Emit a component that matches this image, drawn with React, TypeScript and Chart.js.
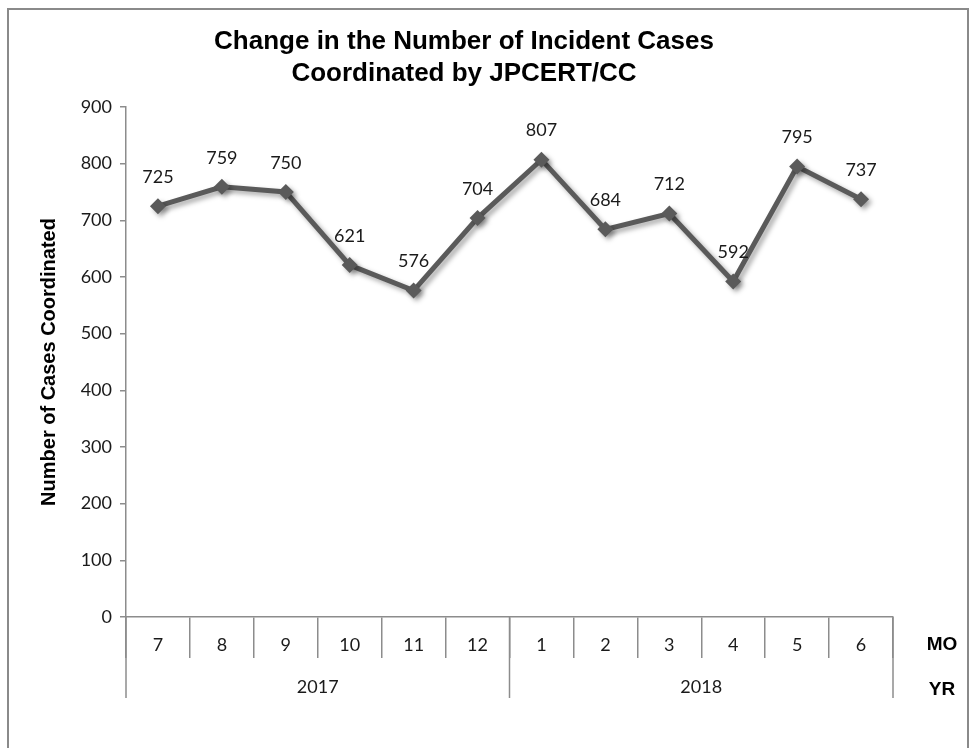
import React, { useEffect, useRef } from "react";
import { Chart, registerables } from "chart.js";

Chart.register(...registerables);

const months = ["7", "8", "9", "10", "11", "12", "1", "2", "3", "4", "5", "6"];
const years = ["2017", "2018"];
const monthsPerYearGroup = [6, 6];
const cases = [725, 759, 750, 621, 576, 704, 807, 684, 712, 592, 795, 737];
const titleLines = ["Change in the Number of Incident Cases", "Coordinated by JPCERT/CC"];
const yTitle = "Number of Cases Coordinated";

const AXIS_COLOR = "#8c8c8c";
const LINE_COLOR = "#5a5a5a";

const shadowPlugin = {
  id: "lineShadow",
  beforeDatasetsDraw(chart: any) {
    const ctx = chart.ctx;
    ctx.save();
    ctx.shadowColor = "rgba(0,0,0,0.35)";
    ctx.shadowBlur = 5;
    ctx.shadowOffsetX = 3;
    ctx.shadowOffsetY = 3;
  },
  afterDatasetsDraw(chart: any) {
    chart.ctx.restore();
  },
};

const labelsPlugin = {
  id: "decor",
  afterDraw(chart: any) {
    const ctx = chart.ctx;
    const area = chart.chartArea;
    const x = chart.scales.x;
    ctx.save();
    // outer border
    ctx.strokeStyle = "#8a8a8a";
    ctx.lineWidth = 2;
    ctx.strokeRect(8, 9, 960, 760);

    // data labels
    const meta = chart.getDatasetMeta(0);
    ctx.fillStyle = "#1a1a1a";
    ctx.font = "18px Lato";
    ctx.textAlign = "center";
    ctx.textBaseline = "middle";
    meta.data.forEach((pt: any, i: number) => {
      ctx.fillText(String(cases[i]), pt.x, pt.y - 29);
    });

    // year row
    ctx.strokeStyle = AXIS_COLOR;
    ctx.lineWidth = 1.5;
    const step = (x.right - x.left) / months.length;
    let start = 0;
    const bottom = area.bottom + 81;
    const drawV = (px: number) => {
      ctx.beginPath();
      ctx.moveTo(px, area.bottom);
      ctx.lineTo(px, bottom);
      ctx.stroke();
    };
    drawV(x.left);
    monthsPerYearGroup.forEach((n, gi) => {
      const l = x.left + start * step;
      const r = x.left + (start + n) * step;
      drawV(r);
      ctx.fillStyle = "#1a1a1a";
      ctx.font = "18px Lato";
      ctx.fillText(years[gi], (l + r) / 2, area.bottom + 70);
      start += n;
    });

    // MO / YR
    ctx.font = "bold 19px 'Liberation Sans'";
    ctx.fillStyle = "#000";
    ctx.fillText("MO", 942, area.bottom + 28);
    ctx.fillText("YR", 942, area.bottom + 73);
    ctx.restore();
  },
};

export default function App() {
  const ref = useRef<HTMLCanvasElement | null>(null);
  useEffect(() => {
    document.body.style.margin = "0";
    const chart = new Chart(ref.current as HTMLCanvasElement, {
      type: "line",
      data: {
        labels: months,
        datasets: [
          {
            data: cases,
            borderColor: LINE_COLOR,
            backgroundColor: LINE_COLOR,
            borderWidth: 5,
            pointStyle: "rectRot",
            pointRadius: 8,
            pointBorderWidth: 0,
            pointBackgroundColor: LINE_COLOR,
            tension: 0,
          },
        ],
      },
      options: {
        responsive: false,
        animation: false,
        layout: { padding: { left: 35, right: 77, top: 0, bottom: 0 } },
        plugins: {
          legend: { display: false },
          tooltip: { enabled: false },
          title: {
            display: true,
            text: titleLines,
            color: "#000",
            font: { family: "'Liberation Sans'", size: 26, weight: "bold", lineHeight: 1.23 },
            padding: { top: 26, bottom: 17 },
          },
        },
        scales: {
          x: {
            type: "category",
            offset: true,
            afterFit: (s: any) => {
              s.height = 131;
            },
            grid: {
              display: true,
              offset: true,
              drawOnChartArea: false,
              drawTicks: true,
              tickLength: 41,
              color: AXIS_COLOR,
              lineWidth: 1.5,
            },
            border: { display: true, color: AXIS_COLOR, width: 1.5 },
            ticks: {
              color: "#1a1a1a",
              font: { family: "Lato", size: 18 },
              padding: -24,
              maxRotation: 0,
              autoSkip: false,
            },
          },
          y: {
            min: 0,
            max: 900,
            afterFit: (s: any) => {
              s.width = 91;
            },
            grid: {
              display: true,
              drawOnChartArea: false,
              drawTicks: true,
              tickLength: 6,
              color: AXIS_COLOR,
              lineWidth: 1.5,
            },
            border: { display: true, color: AXIS_COLOR, width: 1.5 },
            ticks: {
              stepSize: 100,
              color: "#1a1a1a",
              font: { family: "Lato", size: 18 },
              padding: 8,
            },
            title: {
              display: true,
              text: yTitle,
              color: "#000",
              font: { family: "'Liberation Sans'", size: 20, weight: "bold" },
              padding: { top: 2, bottom: 0 },
            },
          },
        },
      },
      plugins: [shadowPlugin, labelsPlugin],
    } as any);
    return () => chart.destroy();
  }, []);
  return (
    <div style={{ position: "absolute", left: 0, top: 0, width: 970, height: 748, background: "#fff" }}>
      <canvas ref={ref} width={970} height={748} />
    </div>
  );
}
